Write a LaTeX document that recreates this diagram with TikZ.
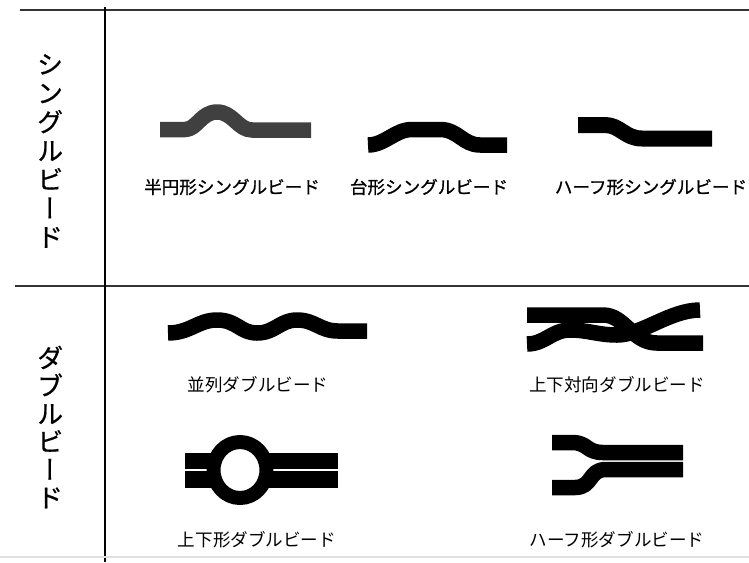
\documentclass[tikz,border=0pt]{standalone}
\usepackage{fontspec}
\newfontfamily\jp{Noto Sans CJK JP}
\newfontfamily\jpb[FakeBold=0.9]{Noto Sans CJK JP}
\newfontfamily\jpv[RawFeature=+vert, FakeBold=0.6]{Noto Sans CJK JP}

\begin{document}
\begin{tikzpicture}[x=0.02cm,y=-0.02cm]
\begin{scope}
	\tikzstyle{every node}=[inner sep=0pt, font=\jp\fontsize{10}{12}\selectfont]
	\tikzstyle{bead}=[line width=0.31cm, line join=round]
	\tikzstyle{rule}=[line width=1.1pt, black!80]
	\useasboundingbox (0,0) rectangle (749,562);

	% frame of the table
	\draw [rule] (20,10) -- (749,10);
	\draw [rule] (15,286) -- (749,286);
	\draw [line width=1.0pt] (105,7) -- (105,562);
	\draw [line width=1.5pt, black!12] (0,557) -- (749,557);

	% row headings, set one glyph per line
	\node[font=\jpv\fontsize{15}{16.4}\selectfont, align=center] (single) at (50,151) {シ\\ン\\グ\\ル\\ビ\\ー\\ド};
	\node[font=\jpv\fontsize{15}{15.9}\selectfont, align=center] (double) at (50,427) {ダ\\ブ\\ル\\ビ\\ー\\ド};

	% single beads
	\draw [bead][black!75] (160,129.5) -- (185,129.5) .. controls (197,129.5) and (201,112) .. (217,112) .. controls (233,112) and (238,130) .. (252,130) -- (311,130);
	\draw [bead] (368,145) .. controls (385,145) and (395,129.5) .. (412,129.5) -- (440,129.5) .. controls (458,129.5) and (463,145) .. (480,145) -- (507,145);
	\draw [bead][line width=0.32cm] (578,125) -- (605,125) .. controls (620,125) and (625,138.5) .. (642,138.5) -- (712,138.5);

	\node[font=\jpb\fontsize{10}{12}\selectfont] (hanen) at (232,187) {半円形シングルビード};
	\node[font=\jpb\fontsize{10}{12}\selectfont] (daikei) at (429,187) {台形シングルビード};
	\node[font=\jpb\fontsize{10}{12}\selectfont] (half1) at (651,187) {ハーフ形シングルビード};

	% double beads
	\draw [bead] (168,333) .. controls (190,333) and (198,320) .. (217,320) .. controls (237,320) and (240,333) .. (257,333) .. controls (275,333) and (280,320) .. (297,320) .. controls (315,320) and (320,331) .. (338,331) -- (367,331);

	\draw [bead] (527,315) -- (603,315) .. controls (625,315) and (632,343) .. (657,343) -- (703,343);
	\draw [bead] (527,344) .. controls (545,344) and (552,330) .. (570,330) .. controls (588,330) and (598,335) .. (617,335) .. controls (642,335) and (670,310) .. (700,310);

	\fill (185,453) rectangle (338,469);
	\fill (185,471) rectangle (338,488);
	\fill [white] (240,470) circle [radius=21];
	\draw [bead][line width=0.28cm] (240,470) circle [x radius=26.5, y radius=28];

	\draw [bead] (552,442.5) -- (572,442.5) .. controls (588,442.5) and (586,452.5) .. (603,452.5) -- (683,452.5);
	\draw [bead] (552,487.5) -- (575,487.5) .. controls (593,487.5) and (588,469.5) .. (606,469.5) -- (683,469.5);

	\node (heiretsu) at (258,385) {並列ダブルビード};
	\node (taikou) at (617,385) {上下対向ダブルビード};
	\node (jouge) at (257,540) {上下形ダブルビード};
	\node (half2) at (617,540) {ハーフ形ダブルビード};
\end{scope}
\end{tikzpicture}
\end{document}
